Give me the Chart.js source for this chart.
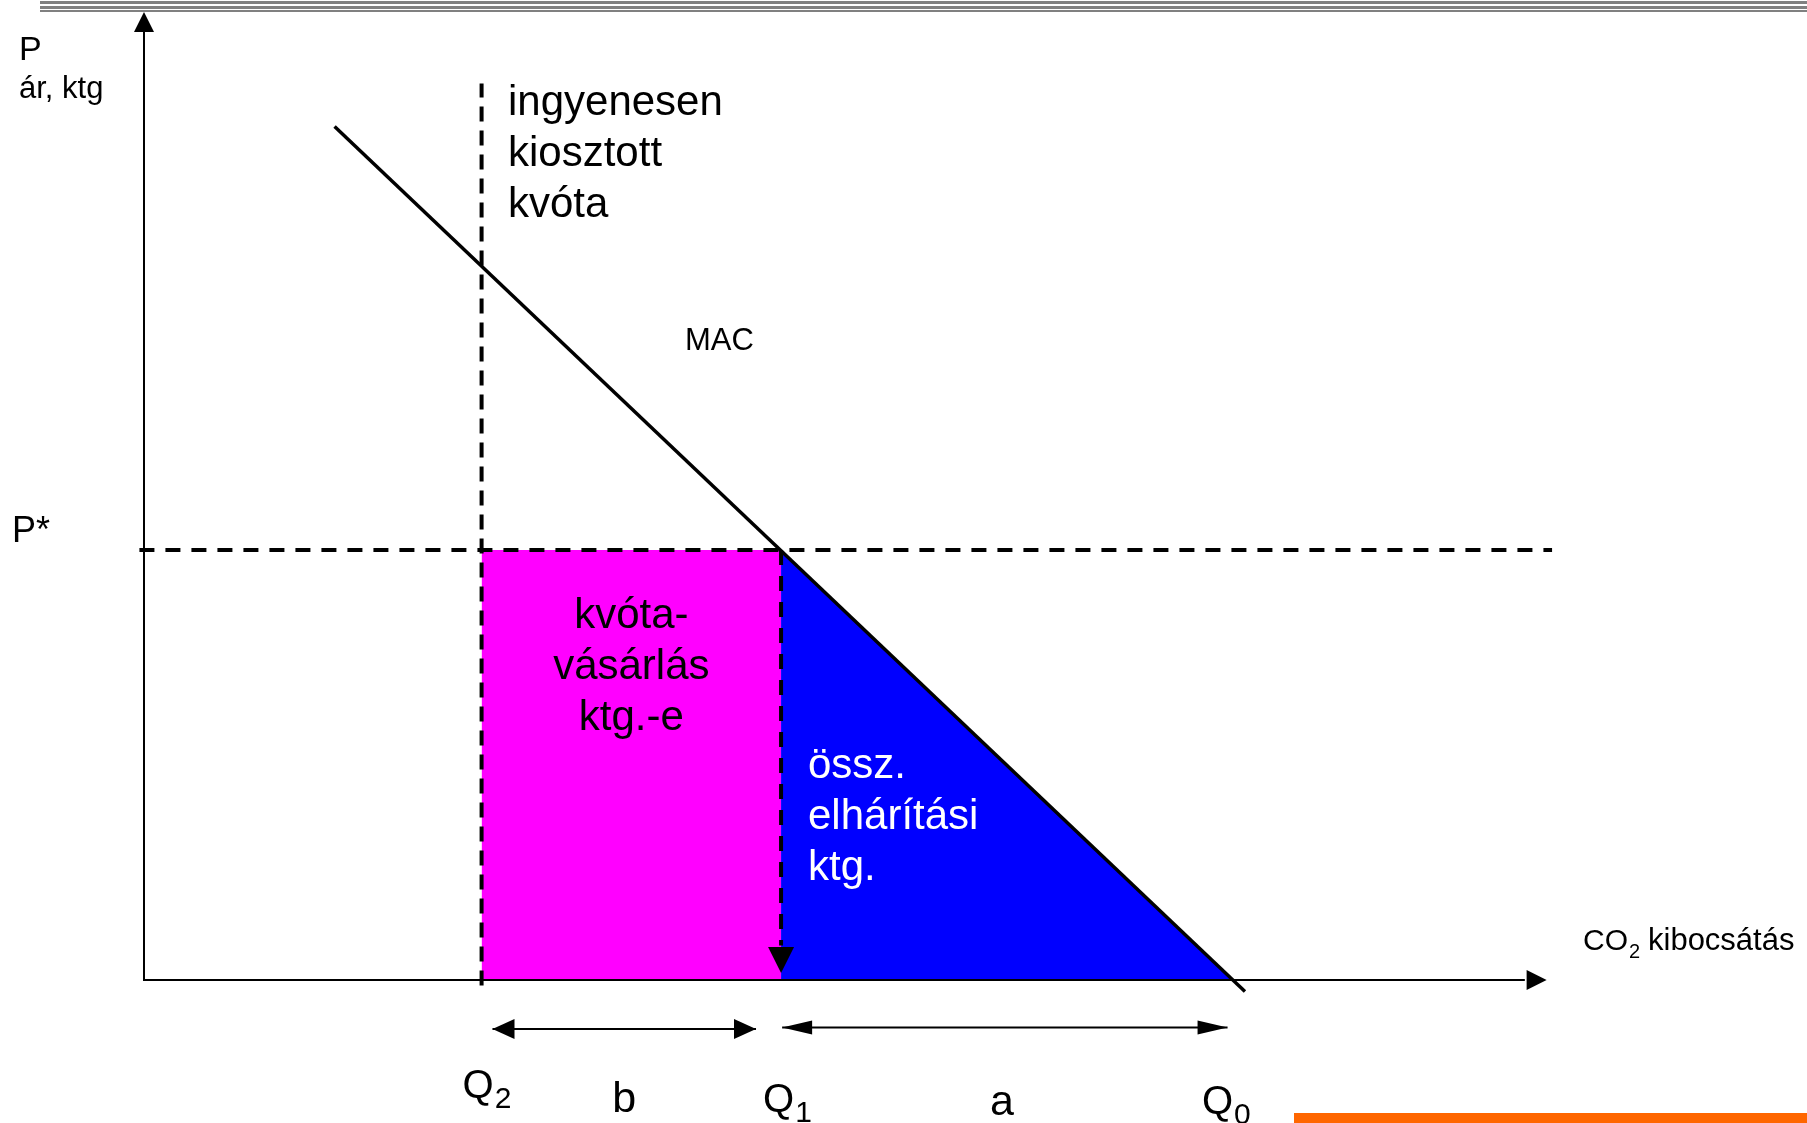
<!DOCTYPE html>
<html><head><meta charset="utf-8">
<script src="https://cdn.jsdelivr.net/npm/chart.js@4.4.1/dist/chart.umd.min.js"></script>
<style>html,body{margin:0;padding:0;background:#fff;overflow:hidden}#wrap{width:1807px;height:1123px;position:relative}canvas{display:block}</style>
</head><body><div id="wrap"><canvas id="c" width="1807" height="1123"></canvas></div>
<script>
// ---- data (abstract diagram units) ----
const quantityNames = ['Q2', 'Q1', 'Q0'];
const quantityValues = [31, 58.5, 100];
const priceName = 'P*';
const priceValue = 40;
const macQuantity = [17.5, 101.1];
const macPrice = [79.4, -1.06];
const spanNames = ['b', 'a'];
const spanStart = [32.0, 58.6];
const spanEnd = [56.2, 99.5];
const spanLevel = [-4.56, -4.42];
const axisXEnd = 128.8;
const axisYEnd = 90.05;

const Q2 = quantityValues[0], Q1 = quantityValues[1], Q0 = quantityValues[2];
const FONT = '"Liberation Sans", Arial, sans-serif';

function seg(x1, y1, x2, y2) { return [{x: x1, y: y1}, {x: x2, y: y2}]; }
function lineDs(data, extra) {
  return Object.assign({data, showLine: true, fill: false, pointRadius: 0, borderColor: '#000', borderWidth: 2, order: 1}, extra || {});
}

const datasets = [
  lineDs(seg(Q2, priceValue, Q1, priceValue), {label: 'kvóta-vásárlás', fill: 'origin', backgroundColor: '#FF00FF', borderWidth: 0, borderColor: 'rgba(0,0,0,0)', order: 6}),
  lineDs(seg(Q1, priceValue, Q0, 0), {label: 'elhárítás', fill: 'origin', backgroundColor: '#0000FF', borderWidth: 0, borderColor: 'rgba(0,0,0,0)', order: 5}),
  lineDs(seg(0, 0, axisXEnd - 2, 0), {label: 'x-axis', borderWidth: 2}),
  lineDs(seg(0, -0.1, 0, axisYEnd - 1.8), {label: 'y-axis', borderWidth: 2}),
  lineDs(macQuantity.map((q, i) => ({x: q, y: macPrice[i]})), {label: 'MAC', borderWidth: 3.5}),
  lineDs(seg(-0.42, priceValue, 129.3, priceValue), {label: 'P*', borderWidth: 4, borderDash: [15, 11]}),
  lineDs(seg(Q2, -0.5, Q2, 83.4), {label: 'Q2', borderWidth: 4, borderDash: [15, 9]}),
  lineDs(seg(Q1, priceValue, Q1, 3.2), {label: 'Q1', borderWidth: 4, borderDash: [15, 11]}),
  lineDs(seg(spanStart[0], spanLevel[0], spanEnd[0], spanLevel[0]), {label: 'b', borderWidth: 2}),
  lineDs(seg(spanStart[1], spanLevel[1], spanEnd[1], spanLevel[1]), {label: 'a', borderWidth: 2})
];

function arrowHead(ctx, tx, ty, dx, dy, len, half) {
  const px = -dy, py = dx;
  const bx = tx - dx * len, by = ty - dy * len;
  ctx.beginPath();
  ctx.moveTo(tx, ty);
  ctx.lineTo(bx + px * half, by + py * half);
  ctx.lineTo(bx - px * half, by - py * half);
  ctx.closePath();
  ctx.fill();
}
function text(ctx, s, x, y, size, color, align) {
  ctx.font = size + 'px ' + FONT;
  ctx.fillStyle = color || '#000';
  ctx.textAlign = align || 'left';
  ctx.textBaseline = 'alphabetic';
  ctx.fillText(s, x, y);
}
function qLabel(ctx, name, x, y) {
  text(ctx, name[0], x, y, 40);
  ctx.font = '40px ' + FONT;
  const w = ctx.measureText(name[0]).width;
  text(ctx, name.slice(1), x + w + 1, y + 10, 30);
}

const decor = {
  id: 'decor',
  afterDatasetsDraw(chart) {
    const ctx = chart.ctx, xs = chart.scales.x, ys = chart.scales.y;
    const X = v => xs.getPixelForValue(v), Y = v => ys.getPixelForValue(v);
    ctx.save();
    ctx.fillStyle = '#808080';
    ctx.fillRect(40, 1, 1767, 3);
    ctx.fillRect(40, 6, 1767, 3);
    ctx.fillRect(40, 10, 1767, 2);
    ctx.fillStyle = '#FF6600';
    ctx.fillRect(1294, 1113, 513, 10);
    ctx.fillStyle = '#000';
    arrowHead(ctx, X(0), Y(axisYEnd), 0, -1, 20, 10);
    arrowHead(ctx, X(axisXEnd), Y(0), 1, 0, 20, 10);
    arrowHead(ctx, X(Q1), Y(0.65), 0, 1, 26, 13);
    arrowHead(ctx, X(spanStart[0]), Y(spanLevel[0]), -1, 0, 22, 10);
    arrowHead(ctx, X(spanEnd[0]), Y(spanLevel[0]), 1, 0, 22, 10);
    arrowHead(ctx, X(spanStart[1]), Y(spanLevel[1]), -1, 0, 30, 7);
    arrowHead(ctx, X(spanEnd[1]), Y(spanLevel[1]), 1, 0, 30, 7);
    text(ctx, 'P', 19, 60, 34);
    text(ctx, 'ár, ktg', 19, 98, 31);
    text(ctx, priceName, 12, 542, 36);
    ctx.font = '30px ' + FONT;
    text(ctx, 'CO', 1583, 950, 30);
    const wCO = ctx.measureText('CO').width;
    text(ctx, '2', 1583 + wCO + 1, 958, 20);
    text(ctx, 'kibocsátás', 1648, 950, 31);
    qLabel(ctx, quantityNames[0], X(Q2) - 19, 1098);
    qLabel(ctx, quantityNames[1], X(Q1) - 18, 1112);
    qLabel(ctx, quantityNames[2], X(Q0) - 31, 1114);
    text(ctx, spanNames[0], X((spanStart[0] + spanEnd[0]) / 2), 1112, 43, '#000', 'center');
    text(ctx, spanNames[1], X((spanStart[1] + spanEnd[1]) / 2) - 3, 1115, 43, '#000', 'center');
    ['ingyenesen', 'kiosztott', 'kvóta'].forEach((s, i) => text(ctx, s, 508, 115 + i * 51, 42));
    text(ctx, 'MAC', 685, 350, 31);
    const midB = (X(Q2) + X(Q1)) / 2;
    ['kvóta-', 'vásárlás', 'ktg.-e'].forEach((s, i) => text(ctx, s, midB, 628 + i * 51, 42, '#000', 'center'));
    ['össz.', 'elhárítási', 'ktg.'].forEach((s, i) => text(ctx, s, 808, 778 + i * 51, 42, '#fff'));
    ctx.restore();
  }
};

new Chart(document.getElementById('c'), {
  type: 'scatter',
  data: {datasets},
  options: {
    responsive: false,
    animation: false,
    events: [],
    devicePixelRatio: 1,
    layout: {padding: 0},
    plugins: {legend: {display: false}, tooltip: {enabled: false}, title: {display: false}},
    scales: {
      x: {type: 'linear', display: false, min: -13.223, max: 152.71},
      y: {type: 'linear', display: false, min: -13.302, max: 91.163}
    }
  },
  plugins: [decor]
});
</script>
</body></html>
